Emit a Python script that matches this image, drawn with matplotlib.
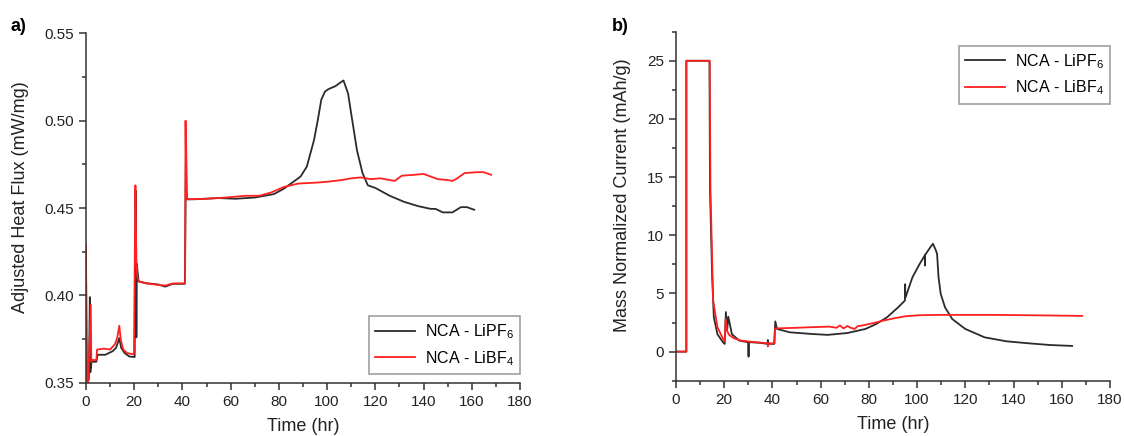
import matplotlib
matplotlib.use("Agg")
import matplotlib.pyplot as plt
from matplotlib.ticker import MultipleLocator

# ---- panel a: adjusted heat flux (mW/mg) ----
t_pf6_a = [0, 0.4, 1.2, 1.6, 1.8, 2.3, 4.3, 4.8, 8, 11, 12.5, 13.8, 14.6, 16, 18,
           20.2, 20.6, 20.9, 21.1, 21.8, 25, 30, 32.8, 36, 41, 41.2, 41.5, 41.8,
           45, 55, 62, 70, 78, 82, 86, 89, 91.6, 94.6, 96.1, 97.6, 99.1, 100.5,
           103.5, 105.7, 106.8, 108.7, 110.2, 112.4, 114.7, 116.9, 120, 126,
           132, 138, 143, 145, 148, 152, 155.5, 158, 161]
hf_pf6_a = [0.419, 0.35, 0.352, 0.399, 0.356, 0.362, 0.362, 0.366, 0.366, 0.368,
            0.370, 0.3755, 0.370, 0.367, 0.365, 0.3647, 0.46, 0.376, 0.418, 0.408,
            0.407, 0.4062, 0.405, 0.4066, 0.4066, 0.4355, 0.49, 0.455, 0.455,
            0.4557, 0.4553, 0.456, 0.458, 0.461, 0.465, 0.468, 0.4737, 0.489,
            0.500, 0.512, 0.5166, 0.518, 0.5198, 0.522, 0.523, 0.5156, 0.5023,
            0.483, 0.470, 0.463, 0.4615, 0.457, 0.4535, 0.451, 0.4495, 0.4495,
            0.4475, 0.4475, 0.4505, 0.4505, 0.449]

t_bf4_a = [0, 0.3, 0.9, 2.0, 2.2, 2.5, 4.3, 4.6, 7.5, 10, 12, 13, 13.8, 14.5,
           15.5, 17, 19.9, 20.5, 20.9, 21.3, 22, 25, 30, 32.8, 36, 40.4, 41.1,
           41.3, 41.6, 42, 50, 58, 66, 72, 77, 82, 88, 95, 100, 106, 110, 114,
           118, 122, 126, 128, 131, 136, 140, 143, 146, 150, 152, 154, 157, 162,
           165, 168]
hf_bf4_a = [0.429, 0.35, 0.35, 0.3946, 0.362, 0.363, 0.363, 0.369, 0.3695, 0.369,
            0.372, 0.376, 0.3826, 0.374, 0.369, 0.367, 0.3662, 0.463, 0.42, 0.41,
            0.408, 0.4068, 0.406, 0.4056, 0.4068, 0.4069, 0.407, 0.50, 0.46,
            0.455, 0.4553, 0.456, 0.457, 0.457, 0.459, 0.462, 0.464, 0.4645,
            0.465, 0.466, 0.467, 0.4675, 0.4665, 0.467, 0.466, 0.4655, 0.4685,
            0.469, 0.4695, 0.468, 0.4665, 0.466, 0.4655, 0.467, 0.470, 0.4705,
            0.4705, 0.469]

# ---- panel b: mass normalized current (mAh/g) ----
t_pf6_b = [0, 4.3, 4.3, 13.9, 14.1, 15.0, 15.7, 17.2, 19.5, 20.2, 20.7, 21.2,
           21.7, 23.2, 26.2, 30.0, 30.1, 30.2, 35.2, 38.0, 38.1, 38.2, 40.7,
           41.2, 41.9, 47.2, 56.2, 62.9, 71.1, 78.6, 83.1, 87.6, 92.1, 95.0,
           95.05, 95.1, 98.1, 101.1, 103.2, 103.25, 103.3, 105.6, 106.6, 107.8,
           108.3, 108.9, 109.8, 111.6, 114.6, 120, 128, 137, 146, 155, 164.3]
cur_pf6_b = [0, 0, 25, 25, 14.0, 6.5, 2.96, 1.5, 0.8, 0.66, 3.4, 1.8, 3.0,
             1.5, 0.95, 0.8, -0.43, 0.82, 0.75, 0.66, 1.0, 0.68, 0.66, 2.6, 1.95,
             1.66, 1.52, 1.44, 1.6, 1.95, 2.38, 2.96, 3.8, 4.4, 5.8, 4.6, 6.4,
             7.55, 8.27, 7.4, 8.3, 9.0, 9.27, 8.7, 8.4, 6.4, 4.97, 3.8, 2.8, 1.95,
             1.23, 0.89, 0.72, 0.57, 0.49]

t_bf4_b = [0, 4.3, 4.3, 14.0, 14.3, 15.4, 17.2, 19.5, 20.2, 20.6, 21.2, 22,
           24, 27, 31, 35, 38, 38.1, 38.2, 40.9, 41.1, 41.9, 50, 56.2, 63.6, 66.6,
           68, 69.5, 71.1, 72.5, 74.1, 75.5, 77.1, 81.6, 86.1, 90.6, 95.1, 101.1,
           110, 131, 150, 168.5]
cur_bf4_b = [0, 0, 25, 25, 14.0, 4.4, 2.1, 1.1, 0.9, 2.8, 1.8, 1.45, 1.15, 0.95,
             0.85, 0.78, 0.72, 0.45, 0.72, 0.7, 2.0, 2.0, 2.05, 2.1, 2.15, 2.05,
             2.25, 2.0, 2.2, 2.05, 1.95, 2.2, 2.24, 2.44, 2.67, 2.87, 3.04, 3.13,
             3.16, 3.16, 3.12, 3.07]

labels = ['NCA - LiPF$_6$', 'NCA - LiBF$_4$']

plt.rcParams['font.family'] = ['Liberation Sans', 'DejaVu Sans']
plt.rcParams['mathtext.default'] = 'regular'

BLACK = '#2b2b2b'
RED = '#ff2020'
SPINE = '#333333'


def style_axes(ax):
    for side in ['top', 'right']:
        ax.spines[side].set_visible(False)
    for side in ['left', 'bottom']:
        ax.spines[side].set_linewidth(1.1)
        ax.spines[side].set_color(SPINE)
    ax.tick_params(which='major', direction='out', length=5, width=1.1,
                   color=SPINE, labelsize=11, labelcolor='#222222')
    ax.tick_params(which='minor', direction='out', length=3, width=1.1, color=SPINE)
    ax.set_xlim(0, 180)
    ax.xaxis.set_major_locator(MultipleLocator(20))
    ax.xaxis.set_minor_locator(MultipleLocator(10))
    ax.set_xlabel('Time (hr)', fontsize=13, color='#222222')
    ax.xaxis.set_label_coords(0.5, -0.1)


fig = plt.figure(figsize=(11.24, 4.36), dpi=100)

ax1 = fig.add_axes([0.0765, 0.1222, 0.3861, 0.8014])
ax1.plot(t_pf6_a, hf_pf6_a, color=BLACK, lw=1.3, label=labels[0])
ax1.plot(t_bf4_a, hf_bf4_a, color=RED, lw=1.3, label=labels[1])
style_axes(ax1)
ax1.set_ylim(0.35, 0.55)
ax1.yaxis.set_major_locator(MultipleLocator(0.05))
ax1.yaxis.set_minor_locator(MultipleLocator(0.025))
ax1.yaxis.set_major_formatter(matplotlib.ticker.FormatStrFormatter('%.2f'))
ax1.set_ylabel('Adjusted Heat Flux (mW/mg)', fontsize=13, color='#222222')
ax1.yaxis.set_label_coords(-0.131, 0.53)
leg1 = ax1.legend(loc='lower right', bbox_to_anchor=(1.0, 0.025), borderaxespad=0,
                  fontsize=11.5, fancybox=False, edgecolor='#888888',
                  handlelength=2.5, handletextpad=0.6, borderpad=0.4)
leg1.get_frame().set_linewidth(1.2)
fig.text(0.0096, 0.93, 'a)', fontsize=13, fontweight='bold')

ax2 = fig.add_axes([0.6014, 0.1268, 0.3861, 0.8005])
ax2.plot(t_pf6_b, cur_pf6_b, color=BLACK, lw=1.3, label=labels[0])
ax2.plot(t_bf4_b, cur_bf4_b, color=RED, lw=1.3, label=labels[1])
style_axes(ax2)
ax2.set_ylim(-2.5, 27.5)
ax2.yaxis.set_major_locator(MultipleLocator(5))
ax2.yaxis.set_minor_locator(MultipleLocator(2.5))
ax2.set_ylabel('Mass Normalized Current (mAh/g)', fontsize=13, color='#222222')
ax2.yaxis.set_label_coords(-0.104, 0.532)
leg2 = ax2.legend(loc='upper right', bbox_to_anchor=(1.0, 0.96), borderaxespad=0,
                  fontsize=11.5, fancybox=False, edgecolor='#888888',
                  handlelength=2.5, handletextpad=0.6, borderpad=0.4)
leg2.get_frame().set_linewidth(1.2)
fig.text(0.5445, 0.93, 'b)', fontsize=13, fontweight='bold')

fig.savefig('out.png', dpi=100)
